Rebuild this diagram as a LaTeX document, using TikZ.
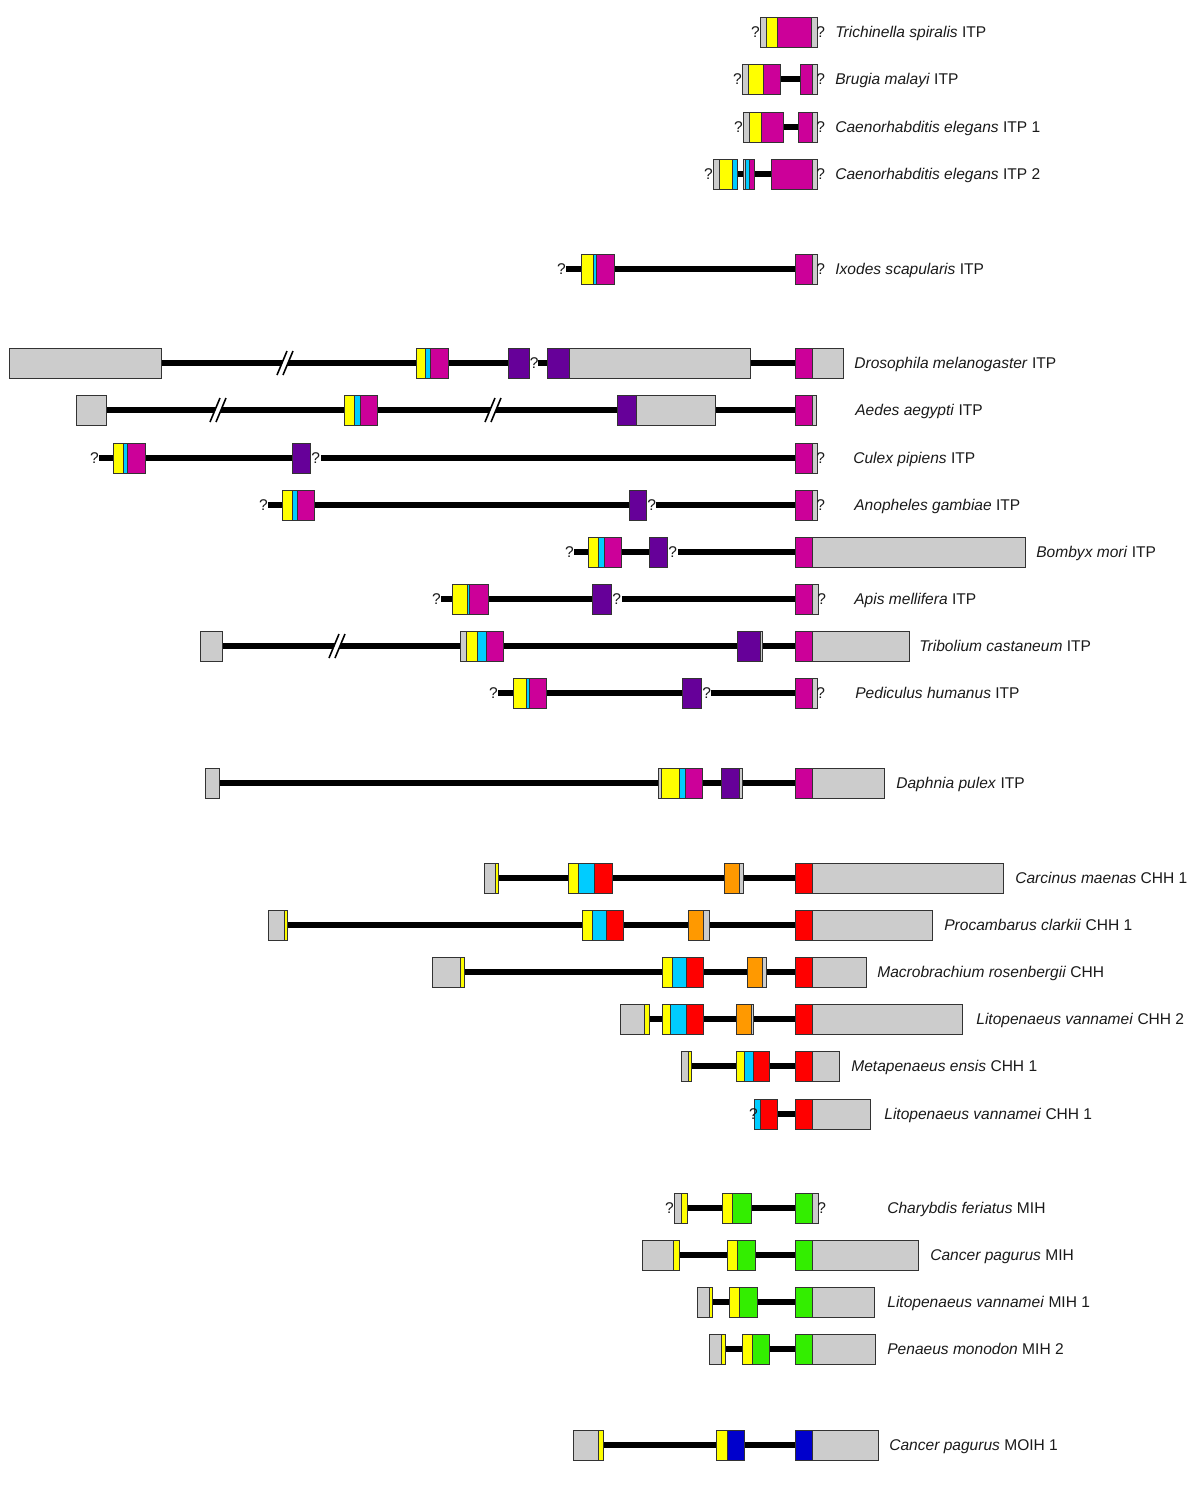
\documentclass[tikz,border=0pt]{standalone}
\usepackage{fontspec}
\newfontfamily\arialfont{Liberation Sans}
\usetikzlibrary{positioning}
\definecolor{gry}{HTML}{CCCCCC}
\definecolor{ylw}{HTML}{FFFF00}
\definecolor{mag}{HTML}{CC0099}
\definecolor{cyn}{HTML}{00CCFF}
\definecolor{prp}{HTML}{660099}
\definecolor{crd}{HTML}{FF0000}
\definecolor{orn}{HTML}{FF9900}
\definecolor{grn}{HTML}{33EE00}
\definecolor{blu}{HTML}{0000CC}
\definecolor{txt}{HTML}{1A1A1A}

% exon blocks of one gene: y, then x1/x2/colour
\newcommand{\exons}[2]{%
  \foreach \xa/\xb/\cc in {#2}{\draw[ex=\cc] (\xa,#1-15) rectangle (\xb,#1+15);}}
% broken intron mark
\newcommand{\cutmark}[2]{%
  \fill[white] (#1-8,#2+12) -- (#1+2,#2-12) -- (#1+8,#2-12) -- (#1-2,#2+12) -- cycle;
  \draw[line width=0.9pt] (#1-8,#2+12) -- (#1+2,#2-12) (#1-2,#2+12) -- (#1+8,#2-12);}

\begin{document}
\begin{tikzpicture}[x=0.02cm, y=-0.02cm,
    ex/.style={draw=black!80, line width=0.55pt, fill=#1},
    intron/.style={line width=3.4pt, black},
    lbl/.style={anchor=base west, inner sep=0pt, text=txt,
                font=\arialfont\fontsize{8.85}{10}\selectfont},
    qm/.style={inner sep=0pt, text=txt, font=\arialfont\fontsize{8.85}{10}\selectfont}
  ]
    \useasboundingbox (0,0) rectangle (1200,1487);

    % --- nematodes ---
    \exons{32}{760/766/gry, 766/777/ylw, 777/811/mag, 811/817/gry}
    \node[qm, anchor=base east] (q1a) at (760,37.5) {?};
    \node[qm, anchor=base west] (q1b) at (816,37.5) {?};
    \node[lbl] (tspi) at (835,37.5) {\textit{Trichinella spiralis} ITP};

    \draw[intron] (780,79) -- (800,79);
    \exons{79}{742/748/gry, 748/763/ylw, 763/780/mag, 800/812/mag, 812/817/gry}
    \node[qm, anchor=base east] (q2a) at (742,84.5) {?};
    \node[qm, anchor=base west] (q2b) at (816,84.5) {?};
    \node[lbl] (bmal) at (835,84.5) {\textit{Brugia malayi} ITP};

    \draw[intron] (783,127) -- (798,127);
    \exons{127}{743/749/gry, 749/761/ylw, 761/783/mag, 798/812/mag, 812/817/gry}
    \node[qm, anchor=base east] (q3a) at (743,132.5) {?};
    \node[qm, anchor=base west] (q3b) at (816,132.5) {?};
    \node[lbl] (cel1) at (835,132.5) {\textit{Caenorhabditis elegans} ITP 1};

    \draw[intron] (737,174) -- (771,174);
    \exons{174}{713/719/gry, 719/732/ylw, 732/737/cyn, 743/745/gry, 745/749/cyn,
                749/754/mag, 771/812/mag, 812/817/gry}
    \node[qm, anchor=base east] (q4a) at (713,179.5) {?};
    \node[qm, anchor=base west] (q4b) at (816,179.5) {?};
    \node[lbl] (cel2) at (835,179.5) {\textit{Caenorhabditis elegans} ITP 2};

    % --- tick ---
    \draw[intron] (566,269) -- (795,269);
    \exons{269}{581/593/ylw, 593/596/cyn, 596/614/mag, 795/812/mag, 812/817/gry}
    \node[qm, anchor=base east] (q5a) at (566,274.5) {?};
    \node[qm, anchor=base west] (q5b) at (816,274.5) {?};
    \node[lbl] (isca) at (835,274.5) {\textit{Ixodes scapularis} ITP};

    % --- insects ---
    \draw[intron] (161,363) -- (508,363) (538,363) -- (795,363);
    \cutmark{285}{363}
    \exons{363}{9/161/gry, 416/425/ylw, 425/430/cyn, 430/448/mag, 508/529/prp,
                547/569/prp, 569/750/gry, 795/812/mag, 812/843/gry}
    \node[qm, anchor=base west] (q6a) at (529.5,368.5) {?};
    \node[lbl] (dmel) at (854,368.5) {\textit{Drosophila melanogaster} ITP};

    \draw[intron] (106,410) -- (796,410);
    \cutmark{218}{410}
    \cutmark{493}{410}
    \exons{410}{76/106/gry, 344/354/ylw, 354/360/cyn, 360/377/mag, 617/636/prp,
                636/715/gry, 795/812/mag, 812/816/gry}
    \node[lbl] (aaeg) at (855,415.5) {\textit{Aedes aegypti} ITP};

    \draw[intron] (99,458) -- (292,458) (321,458) -- (795,458);
    \exons{458}{113/123/ylw, 123/127/cyn, 127/145/mag, 292/310/prp, 795/812/mag, 812/817/gry}
    \node[qm, anchor=base east] (q8a) at (99,463.5) {?};
    \node[qm, anchor=base west] (q8b) at (311,463.5) {?};
    \node[qm, anchor=base west] (q8c) at (816,463.5) {?};
    \node[lbl] (cpip) at (853,463.5) {\textit{Culex pipiens} ITP};

    \draw[intron] (268,505) -- (629,505) (656,505) -- (795,505);
    \exons{505}{282/292/ylw, 292/297/cyn, 297/314/mag, 629/646/prp, 795/812/mag, 812/817/gry}
    \node[qm, anchor=base east] (q9a) at (268,510.5) {?};
    \node[qm, anchor=base west] (q9b) at (647,510.5) {?};
    \node[qm, anchor=base west] (q9c) at (816,510.5) {?};
    \node[lbl] (agam) at (854,510.5) {\textit{Anopheles gambiae} ITP};

    \draw[intron] (574,552) -- (649,552) (678,552) -- (795,552);
    \exons{552}{588/598/ylw, 598/604/cyn, 604/621/mag, 649/667/prp, 795/812/mag, 812/1025/gry}
    \node[qm, anchor=base east] (q10a) at (574,557.5) {?};
    \node[qm, anchor=base west] (q10b) at (668,557.5) {?};
    \node[lbl] (bmor) at (1036,557.5) {\textit{Bombyx mori} ITP};

    \draw[intron] (441,599) -- (592,599) (622,599) -- (795,599);
    \exons{599}{452/467/ylw, 467/469/cyn, 469/488/mag, 592/611/prp, 795/812/mag, 812/818/gry}
    \node[qm, anchor=base east] (q11a) at (441,604.5) {?};
    \node[qm, anchor=base west] (q11b) at (612,604.5) {?};
    \node[qm, anchor=base west] (q11c) at (817,604.5) {?};
    \node[lbl] (amel) at (854,604.5) {\textit{Apis mellifera} ITP};

    \draw[intron] (222,646) -- (795,646);
    \cutmark{337}{646}
    \exons{646}{200/222/gry, 460/466/gry, 466/477/ylw, 477/486/cyn, 486/503/mag,
                737/760/prp, 760/762/gry, 795/812/mag, 812/909/gry}
    \node[lbl] (tcas) at (919,651.5) {\textit{Tribolium castaneum} ITP};

    \draw[intron] (498,693) -- (682,693) (711,693) -- (795,693);
    \exons{693}{513/526/ylw, 526/529/cyn, 529/546/mag, 682/701/prp, 795/812/mag, 812/817/gry}
    \node[qm, anchor=base east] (q13a) at (498,698.5) {?};
    \node[qm, anchor=base west] (q13b) at (702,698.5) {?};
    \node[qm, anchor=base west] (q13c) at (816,698.5) {?};
    \node[lbl] (phum) at (855,698.5) {\textit{Pediculus humanus} ITP};

    % --- branchiopod ---
    \draw[intron] (219,783) -- (795,783);
    \exons{783}{205/219/gry, 658/661/gry, 661/679/ylw, 679/685/cyn, 685/702/mag,
                721/739/prp, 739/742/gry, 795/812/mag, 812/884/gry}
    \node[lbl] (dpul) at (896,788.5) {\textit{Daphnia pulex} ITP};

    % --- CHH ---
    \draw[intron] (498,878) -- (795,878);
    \exons{878}{484/495/gry, 495/498/ylw, 568/578/ylw, 578/594/cyn, 594/612/crd,
                724/739/orn, 739/743/gry, 795/812/crd, 812/1003/gry}
    \node[lbl] (cmae) at (1015,883.5) {\textit{Carcinus maenas} CHH 1};

    \draw[intron] (287,925) -- (795,925);
    \exons{925}{268/284/gry, 284/287/ylw, 582/592/ylw, 592/606/cyn, 606/623/crd,
                688/703/orn, 703/709/gry, 795/812/crd, 812/932/gry}
    \node[lbl] (pcla) at (944,930.5) {\textit{Procambarus clarkii} CHH 1};

    \draw[intron] (464,972) -- (795,972);
    \exons{972}{432/460/gry, 460/464/ylw, 662/672/ylw, 672/686/cyn, 686/703/crd,
                747/762/orn, 762/766/gry, 795/812/crd, 812/866/gry}
    \node[lbl] (mros) at (877,977.5) {\textit{Macrobrachium rosenbergii} CHH};

    \draw[intron] (649,1019) -- (795,1019);
    \exons{1019}{620/644/gry, 644/649/ylw, 662/670/ylw, 670/686/cyn, 686/703/crd,
                 736/751/orn, 751/753/gry, 795/812/crd, 812/962/gry}
    \node[lbl] (lva2) at (976,1024.5) {\textit{Litopenaeus vannamei} CHH 2};

    \draw[intron] (691,1066) -- (795,1066);
    \exons{1066}{681/688/gry, 688/691/ylw, 736/744/ylw, 744/753/cyn, 753/769/crd,
                 795/812/crd, 812/839/gry}
    \node[lbl] (mens) at (851,1071.5) {\textit{Metapenaeus ensis} CHH 1};

    \draw[intron] (777,1114) -- (795,1114);
    \exons{1114}{754/760/cyn, 760/777/crd, 795/812/crd, 812/870/gry}
    \node[qm, anchor=base east] (q20a) at (758,1119.5) {?};
    \node[lbl] (lva1) at (884,1119.5) {\textit{Litopenaeus vannamei} CHH 1};

    % --- MIH ---
    \draw[intron] (687,1208) -- (795,1208);
    \exons{1208}{674/681/gry, 681/687/ylw, 722/732/ylw, 732/751/grn, 795/812/grn, 812/818/gry}
    \node[qm, anchor=base east] (q21a) at (674,1213.5) {?};
    \node[qm, anchor=base west] (q21b) at (817,1213.5) {?};
    \node[lbl] (cfer) at (887,1213.5) {\textit{Charybdis feriatus} MIH};

    \draw[intron] (679,1255) -- (795,1255);
    \exons{1255}{642/673/gry, 673/679/ylw, 727/737/ylw, 737/755/grn, 795/812/grn, 812/918/gry}
    \node[lbl] (cpag) at (930,1260.5) {\textit{Cancer pagurus} MIH};

    \draw[intron] (712,1302) -- (795,1302);
    \exons{1302}{697/709/gry, 709/712/ylw, 729/739/ylw, 739/757/grn, 795/812/grn, 812/874/gry}
    \node[lbl] (lvm1) at (887,1307.5) {\textit{Litopenaeus vannamei} MIH 1};

    \draw[intron] (725,1349) -- (795,1349);
    \exons{1349}{709/721/gry, 721/725/ylw, 742/752/ylw, 752/769/grn, 795/812/grn, 812/875/gry}
    \node[lbl] (pmon) at (887,1354.5) {\textit{Penaeus monodon} MIH 2};

    % --- MOIH ---
    \draw[intron] (603,1445) -- (795,1445);
    \exons{1445}{573/598/gry, 598/603/ylw, 716/727/ylw, 727/744/blu, 795/812/blu, 812/878/gry}
    \node[lbl] (cpmo) at (889,1450.5) {\textit{Cancer pagurus} MOIH 1};
\end{tikzpicture}
\end{document}
